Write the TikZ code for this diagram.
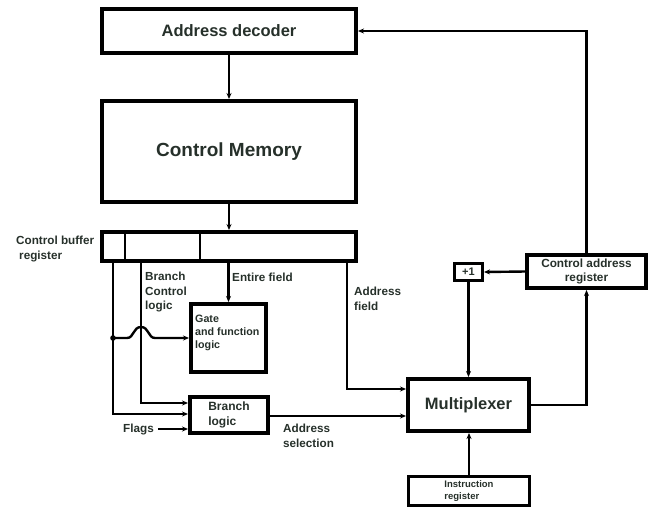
\documentclass[tikz,border=0pt]{standalone}
\usepackage{fontspec}
\setmainfont{Liberation Sans}
\usepackage{xcolor}
\usepackage{tikz}
\usetikzlibrary{arrows.meta}
\definecolor{inkgray}{RGB}{38,48,42}

\begin{document}
\begin{tikzpicture}[x=1pt, y=-1pt,
    blk/.style={draw=black, line width=4pt, inner sep=0pt, text=inkgray, align=center},
    thinblk/.style={draw=black, line width=3pt, inner sep=0pt, text=inkgray, align=left},
    lbl/.style={text=inkgray, inner sep=0pt, align=left, font=\bfseries\fontsize{11.7}{14.5}\selectfont},
    wire/.style={line width=2.4pt, -{Stealth[length=6pt,width=5pt]}},
    bar/.style={line width=2.4pt}]
    \useasboundingbox (0,0) rectangle (660,509);

    \node[blk, minimum width=254pt, minimum height=44pt, font=\bfseries\fontsize{16.5}{19}\selectfont] at (229,31) (AD) {Address decoder};
    \node[blk, minimum width=254pt, minimum height=101pt, font=\bfseries\fontsize{19}{22}\selectfont] at (229,151.5) (CM) {Control Memory};
    \node[blk, minimum width=254pt, minimum height=29pt] at (229,246.5) (CBR) {};
    \node[blk, minimum width=75pt, minimum height=68pt] at (228.5,338) (GFL) {};
    \node[blk, minimum width=78pt, minimum height=36pt, align=left, font=\bfseries\fontsize{12}{15}\selectfont] at (229,415) (BL) {Branch\\logic};
    \node[blk, minimum width=121pt, minimum height=52pt, font=\bfseries\fontsize{16.5}{19}\selectfont] at (468.5,405) (MUX) {Multiplexer};
    \node[blk, minimum width=119pt, minimum height=33pt, font=\bfseries\fontsize{11.8}{14}\selectfont] at (586.5,271.5) (CAR) {Control address\\register};
    \node[thinblk, minimum width=28pt, minimum height=17pt, font=\bfseries\fontsize{11}{13}\selectfont] at (468.5,272) (P1) {+1};
    \node[thinblk, minimum width=121pt, minimum height=29pt, font=\bfseries\fontsize{9.5}{12}\selectfont] at (469,491) (IR) {Instruction\\register};

    % labels
    \node[lbl, anchor=west] at (16,249) (cbrtext) {Control buffer\\\hspace{3pt}register};
    \node[lbl, anchor=west, font=\bfseries\fontsize{10.7}{13}\selectfont] at (195,333) (gfltext) {Gate\\and function\\logic};
    \node[lbl, anchor=west] at (145,292) (bctext) {Branch\\Control\\logic};
    \node[lbl, anchor=west] at (232,277) (eftext) {Entire field};
    \node[lbl, anchor=west] at (354,299) (aftext) {Address\\field};
    \node[lbl, anchor=west] at (283,436) (astext) {Address\\selection};
    \node[lbl] at (138.5,429) (flags) {Flags};

    % buffer fields
    \coordinate (d1) at (125,0);
    \coordinate (d2) at (200,0);
    \draw[bar] (CBR.north -| d1) -- (CBR.south -| d1);
    \draw[bar] (CBR.north -| d2) -- (CBR.south -| d2);

    \coordinate (J) at (113,338);
    \coordinate (bc) at (141,0);
    \coordinate (af) at (347,0);

    \draw[wire] (AD.south) -- (CM.north);
    \draw[wire] (CM.south) -- (CBR.north);
    \draw[wire] (J |- CBR.south) -- (113,414) -- (BL.west |- 113,414);
    \draw[wire] (bc |- CBR.south) -- (141,403) -- (BL.west |- 141,403);
    \draw[wire] ([xshift=4pt]flags.east) -- (BL.west |- flags.east);
    \fill (J) circle[radius=2.8pt];
    \draw[wire] (J) -- (127,338) .. controls (134,338) and (133,327) .. (141,327)
        .. controls (149,327) and (148,338) .. (155,338) -- (GFL.west);
    \draw[wire] (CBR.south -| GFL.north) -- (GFL.north);
    \draw[wire] (af |- CBR.south) -- (347,389) -- (MUX.west |- 347,389);
    \draw[wire] (BL.east |- 0,416) -- (MUX.west |- 0,416);
    \draw[wire] (IR.north) -- (MUX.south -| IR.north);
    \draw[wire] (CAR.west) -- (P1.east);
    \draw[wire] (P1.south) -- (MUX.north -| P1.south);
    \draw[wire] (MUX.east) -| (CAR.south);
    \draw[wire] (CAR.north) |- (AD.east);
\end{tikzpicture}
\end{document}
